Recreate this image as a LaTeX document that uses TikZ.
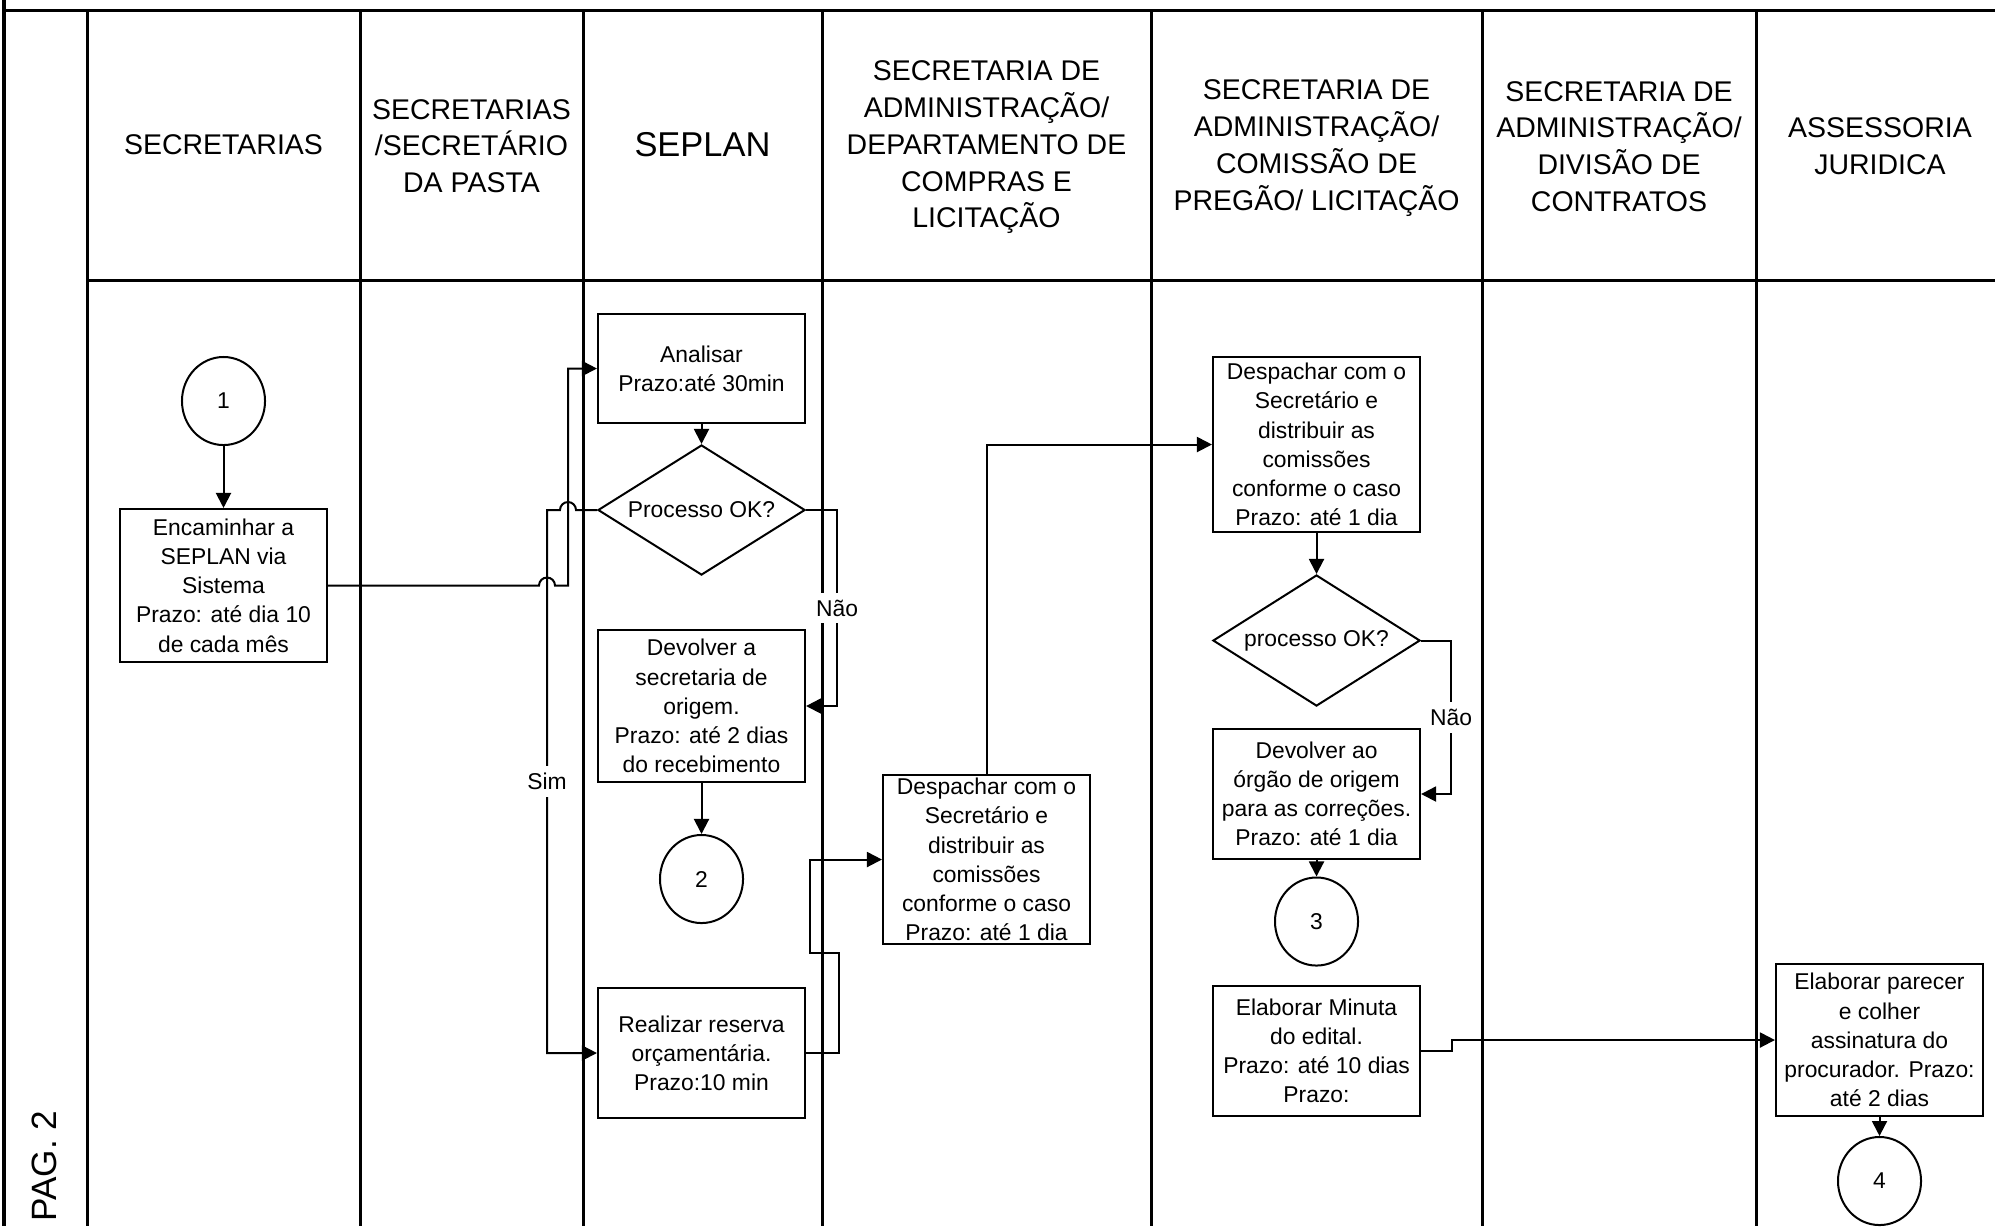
\documentclass[tikz,border=0pt]{standalone}
\usepackage{fontspec}
\setmainfont{Liberation Sans}
\usetikzlibrary{positioning,arrows.meta,shapes.geometric}
\tikzset{
	>={Triangle[length=1.5mm,width=1.5mm]}
}

\begin{document}
\begin{tikzpicture}[
x = 0.01cm,
y = -0.01cm,
every node/.style = {
	font = \fontsize{6.5}{8.3}\selectfont,
	align = center,
	inner sep = 0pt
},
lane/.style = {
	line width = 0.3mm
},
lanehead/.style = {
	font = \fontsize{8.1}{10.45}\selectfont
},
task/.style = {
	rectangle,
	draw,
	line width = 0.2mm,
	minimum width = 2.07cm
},
decision/.style = {
	diamond,
	draw,
	aspect = 1.6,
	line width = 0.2mm,
	minimum width = 2.07cm,
	minimum height = 1.3cm
},
onpage/.style = {
	ellipse,
	draw,
	line width = 0.2mm,
	minimum width = 0.83cm,
	minimum height = 0.88cm
},
flow/.style = {
	->,
	line width = 0.2mm
},
answer/.style = {
	fill = white,
	inner sep = 2pt
}
]

\useasboundingbox (0,0) rectangle (1995,1226);

% lanes
\draw[lane] (4,0) -- (4,1226);
\draw[lane] (4,10) -- (1995,10);
\draw[lane] (87,280) -- (1995,280);
\draw[lane] (87,10) -- (87,1226) (360,10) -- (360,1226) (583,10) -- (583,1226)
	(822,10) -- (822,1226) (1151,10) -- (1151,1226) (1482,10) -- (1482,1226)
	(1756,10) -- (1756,1226);

\node (sec) [lanehead] at (223.5,145) {SECRETARIAS};
\node (pasta) [lanehead] at (471.5,146) {SECRETARIAS\\/SECRETÁRIO\\DA PASTA};
\node (seplan) [font=\fontsize{9.8}{12}\selectfont] at (702.5,145) {SEPLAN};
\node (compras) [lanehead] at (986.5,147.5) {SECRETARIA DE\\ADMINISTRAÇÃO/\\DEPARTAMENTO DE\\COMPRAS E\\LICITAÇÃO};
\node (pregao) [lanehead] at (1316.5,148) {SECRETARIA DE\\ADMINISTRAÇÃO/\\COMISSÃO DE\\PREGÃO/ LICITAÇÃO};
\node (contratos) [lanehead] at (1619,146.5) {SECRETARIA DE\\ADMINISTRAÇÃO/\\DIVISÃO DE\\CONTRATOS};
\node (juridica) [lanehead] at (1880,146) {ASSESSORIA\\JURIDICA};
\node (pag) [rotate=90, font=\fontsize{10}{12}\selectfont] at (44,1166) {PAG. 2};

% flow
\node (c1) [onpage] at (223.5,401) {1};
\node (encaminhar) [task, minimum height=1.53cm] at (223.5,585.5) {Encaminhar a\\SEPLAN via\\Sistema\\Prazo: até dia 10\\de cada mês};

\node (analisar) [task, minimum height=1.09cm] at (701.5,368.5) {Analisar\\Prazo:até 30min};
\node (ok1) [decision] at (701.5,510) {Processo OK?};
\node (devolver) [task, minimum height=1.52cm] at (701.5,706) {Devolver a\\secretaria de\\origem.\\Prazo: até 2 dias\\do recebimento};
\node (c2) [onpage] at (701.5,879) {2};
\node (reserva) [task, minimum height=1.3cm] at (701.5,1053) {Realizar reserva\\orçamentária.\\Prazo:10 min};

\node (despachar1) [task, minimum height=1.69cm] at (986.5,859.5) {Despachar com o\\Secretário e\\distribuir as\\comissões\\conforme o caso\\Prazo: até 1 dia};

\node (despachar2) [task, minimum height=1.75cm] at (1316.5,444.5) {Despachar com o\\Secretário e\\distribuir as\\comissões\\conforme o caso\\Prazo: até 1 dia};
\node (ok2) [decision, minimum height=1.31cm] at (1316.5,640.5) {processo OK?};
\node (devolverao) [task, minimum height=1.3cm] at (1316.5,794) {Devolver ao\\órgão de origem\\para as correções.\\Prazo: até 1 dia};
\node (c3) [onpage] at (1316.5,921.5) {3};
\node (minuta) [task, minimum height=1.3cm] at (1316.5,1051) {Elaborar Minuta\\do edital.\\Prazo: até 10 dias\\Prazo:};

\node (parecer) [task, minimum height=1.52cm] at (1879.5,1040) {Elaborar parecer\\e colher\\assinatura do\\procurador. Prazo:\\até 2 dias};
\node (c4) [onpage] at (1879.5,1181) {4};

\draw[flow] (c1) -- (encaminhar);
\draw[flow] (encaminhar.east) -- (539,585.5) arc[start angle=180, end angle=0, radius=0.08cm] -- (568,585.5) |- (analisar.west);
\draw[flow] (analisar) -- (ok1);
\draw[flow] (ok1.west) -- (576,510) arc[start angle=0, end angle=180, radius=0.08cm] -- (547,510) |- node[answer, pos=0.25] {Sim} (reserva.west);
\draw[flow] (ok1.east) -- ++(31,0) |- node[answer, pos=0.25] {Não} (devolver.east);
\draw[flow] (devolver) -- (c2);
\draw[flow] (reserva.east) -- ++(33,0) -- ++(0,-100) -- ++(-29,0) |- (despachar1.west);
\draw[flow] (despachar1.north) |- (despachar2.west);
\draw[flow] (despachar2) -- (ok2);
\draw[flow] (ok2.east) -- ++(30,0) |- node[answer, pos=0.25] {Não} (devolverao.east);
\draw[flow] (devolverao) -- (c3);
\draw[flow] (minuta.east) -- ++(31,0) |- (parecer.west);
\draw[flow] (parecer) -- (c4);

\end{tikzpicture}
\end{document}
